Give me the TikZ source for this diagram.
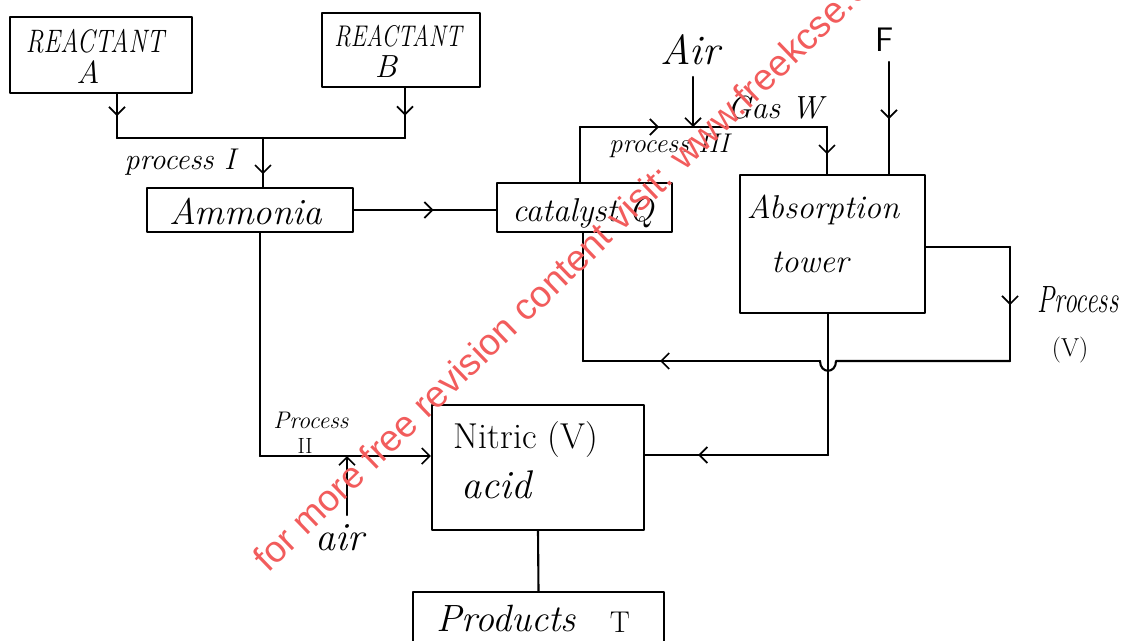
\documentclass[tikz,border=0pt]{standalone}
\usepackage{fontspec}
\newfontfamily\wmfont{Liberation Sans}
\usetikzlibrary{arrows.meta,decorations.markings}
\newcommand\fsz[1]{\fontsize{#1}{#1}\selectfont}
\definecolor{wmred}{RGB}{242,92,92}
\tikzset{
  conn/.style={line width=2.1pt},
  box/.style={draw, rectangle, inner sep=0pt, line width=2.1pt},
  lbl/.style={inner sep=0pt},
  hbarb/.tip={Straight Barb[length=8pt,width=16pt,line width=1.7pt]},
  midarr/.style={postaction={decorate},
    decoration={markings, mark=at position #1 with {\arrow{hbarb}}}},
  endarr/.style={-{Straight Barb[length=8pt,width=16pt,line width=1.7pt]}},
}
\begin{document}
\begin{tikzpicture}[x=1pt,y=-1pt,line join=round,line cap=round]
\useasboundingbox (0,0) rectangle (1121,640);
\fill[white] (0,0) rectangle (1121,640);
\begin{scope}
\clip (0,0) rectangle (1121,640);

% boxes
\node[box, minimum width=182, minimum height=76] (ra) at (101,55) {};
\node[box, minimum width=158, minimum height=74] (rb) at (401,50) {};
\node[box, minimum width=206, minimum height=44] (am) at (250,210) {};
\node[box, minimum width=175, minimum height=49] (cat) at (584.5,207.5) {};
\node[box, minimum width=185, minimum height=138] (tw) at (832.5,244) {};
\node[box, minimum width=212, minimum height=125] (nit) at (538,467.5) {};
\node[box, minimum width=251, minimum height=60] (pr) at (538.5,622) {};

% texts
\node[lbl, font=\itshape\fsz{25}, yscale=1.3] (raT) at (95,41) {REACTANT};
\node[lbl, font=\itshape\fsz{32}] (raA) at (88,72) {A};
\node[lbl, font=\itshape\fsz{23}, yscale=1.3] (rbT) at (398,36) {REACTANT};
\node[lbl, font=\itshape\fsz{32}] (rbB) at (386,67) {B};
\node[lbl, font=\itshape\fsz{30}] (pI) at (180,162) {process I};
\node[lbl, font=\itshape\fsz{37}] (amT) at (246,211) {Ammonia};
\node[lbl, font=\itshape\fsz{33}] (catT) at (583,213) {catalyst Q};
\node[lbl, font=\itshape\fsz{42}] (airT) at (690,50) {Air};
\node[lbl, font=\itshape\fsz{32}] (gasT) at (775,108) {Gas W};
\node[lbl, font=\itshape\fsz{27}] (p3T) at (669,146) {process III};
\node[lbl, font=\sffamily\fsz{34}] (fT) at (885,40) {F};
\node[lbl, font=\itshape\fsz{33}] (absT) at (823,210) {Absorption};
\node[lbl, font=\itshape\fsz{33}] (towT) at (810,262) {tower};
\node[lbl, font=\itshape\fsz{38}, xscale=0.68] (pVT) at (1078,300) {Process};
\node[lbl, font=\fsz{26}] (pVV) at (1070,350) {(V)};
\node[lbl, font=\itshape\fsz{24}] (pIIT) at (311,420) {Process};
\node[lbl, font=\fsz{22}] (pII) at (305,446) {II};
\node[lbl, font=\itshape\fsz{40}] (air2) at (340,538) {air};
\node[lbl, font=\fsz{36}] (nitT) at (526,440) {Nitric (V)};
\node[lbl, font=\itshape\fsz{40}] (acidT) at (496,485) {acid};
\node[lbl, font=\itshape\fsz{38}] (prodT) at (506,618) {Products};
\node[lbl, font=\fsz{30}] (prT) at (620,622) {T};

% connectors
\coordinate (jA) at (117,138);
\coordinate (jB) at (405,138);
\coordinate (jI) at (263,138);
\draw[conn, midarr=0.5] (ra.south -| jA) -- (jA);
\draw[conn, midarr=0.55] (rb.south -| jB) -- (jB);
\draw[conn] (jA) -- (jB);
\draw[conn, midarr=0.74] (jI) -- (jI |- am.north);
\draw[conn, midarr=0.56] (am.east) -- (am.east -| cat.west);

\coordinate (p3a) at (580,127);
\coordinate (p3b) at (827,127);
\draw[conn] (cat.north -| p3a) -- (p3a);
\draw[conn, midarr=0.32] (p3a) -- (p3b);
\draw[conn, midarr=0.58] (p3b) -- (p3b |- tw.north);

\coordinate (a1) at (693,77);
\draw[conn, endarr] (a1) -- (a1 |- p3a);

\coordinate (f1) at (889,62);
\draw[conn, midarr=0.51] (f1) -- (f1 |- tw.north);

\coordinate (pv1) at (1010,247);
\coordinate (pv2) at (1010,361);
\coordinate (hopR) at (836,361);
\coordinate (hopL) at (820,361);
\coordinate (lb) at (583,361);
\draw[conn] (pv1 -| tw.east) -- (pv1);
\draw[conn, midarr=0.51] (pv1) -- (pv2);
\draw[conn] (pv2) -- (hopR) .. controls (836,374) and (820,374) .. (hopL);
\draw[conn, midarr=0.675] (hopL) -- (lb);
\draw[conn] (lb) -- (lb |- cat.south);

\coordinate (tb) at (828,455);
\draw[conn] (tw.south -| tb) -- (tb);
\draw[conn, midarr=0.71] (tb) -- (tb -| nit.east);

\coordinate (am2) at (260,456);
\draw[conn] (am.south -| am2) -- (am2);
\draw[conn, endarr] (am2) -- (am2 -| nit.west);
\coordinate (la) at (347,515);
\draw[conn, endarr] (la) -- (la |- am2);
\draw[conn] (nit.south) -- (pr.north);

% watermark
\node[lbl, font=\wmfont\fsz{37}, text=wmred, rotate=44, anchor=base west] (wm) at (268,574) {for more free revision content visit: www.freekcse.com};
\end{scope}
\end{tikzpicture}
\end{document}
